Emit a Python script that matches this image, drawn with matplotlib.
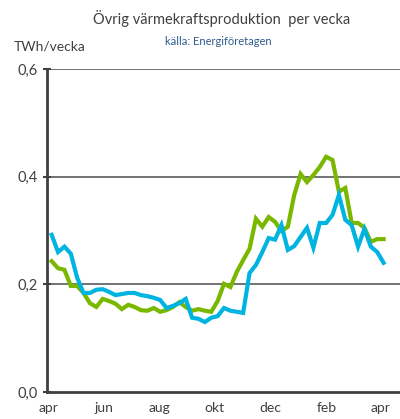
import numpy as np
import matplotlib.pyplot as plt

# weekly values, TWh/vecka
blue_vals = [0.292, 0.260, 0.270, 0.257, 0.212, 0.184, 0.184, 0.190, 0.191, 0.186,
             0.180, 0.182, 0.184, 0.184, 0.180, 0.178, 0.175, 0.171, 0.156, 0.160,
             0.165, 0.173, 0.138, 0.136, 0.130, 0.138, 0.141, 0.156, 0.151, 0.149,
             0.147, 0.221, 0.236, 0.260, 0.286, 0.283, 0.310, 0.264, 0.271, 0.288,
             0.305, 0.268, 0.314, 0.314, 0.329, 0.366, 0.320, 0.310, 0.270, 0.303,
             0.270, 0.260, 0.240]
green_vals = [0.243, 0.230, 0.227, 0.197, 0.197, 0.184, 0.165, 0.158, 0.173, 0.169,
              0.164, 0.154, 0.162, 0.158, 0.152, 0.151, 0.156, 0.149, 0.152, 0.158,
              0.167, 0.158, 0.151, 0.154, 0.151, 0.149, 0.169, 0.201, 0.195, 0.223,
              0.245, 0.266, 0.322, 0.307, 0.325, 0.316, 0.299, 0.307, 0.366, 0.405,
              0.390, 0.403, 0.418, 0.437, 0.431, 0.372, 0.379, 0.314, 0.314, 0.305,
              0.279, 0.284, 0.284]

month_labels = ['apr', 'jun', 'aug', 'okt', 'dec', 'feb', 'apr']
month_days = [0, 61, 122, 183, 244, 306, 365]   # days after 1 april
y_ticks = [0.0, 0.2, 0.4, 0.6]

plt.rcParams['font.family'] = ['Lato', 'DejaVu Sans']

# week positions as days after 1 april
days = 4 + 7 * np.arange(len(blue_vals))

fig = plt.figure(figsize=(4.0, 4.19), dpi=100)
ax = fig.add_axes([0.1175, 0.0644, 0.8825, 0.7709])

grid_col = '#5a5a5a'
for yt in y_ticks[1:]:
    ax.axhline(yt, color=grid_col, lw=1.2, zorder=1)

ax.plot(days, green_vals, color='#7ab800', lw=3.0, solid_joinstyle='miter', zorder=3)
ax.plot(days, blue_vals, color='#00b4e1', lw=3.0, solid_joinstyle='miter', zorder=4)

ax.set_xlim(-1.1, 386)
ax.set_ylim(0, 0.6)

for s in ['top', 'right']:
    ax.spines[s].set_visible(False)
ax.spines['left'].set_color('#404040')
ax.spines['left'].set_linewidth(2.0)
ax.spines['bottom'].set_color('#404040')
ax.spines['bottom'].set_linewidth(2.0)

ax.set_yticks(y_ticks)
ax.set_yticklabels([f'{v:.1f}'.replace('.', ',') for v in y_ticks],
                   fontsize=10.5, color='#404040')
ax.tick_params(axis='y', direction='inout', length=6, width=1.5, color='#404040', pad=4)

ax.set_xticks(month_days)
ax.set_xticklabels(month_labels, fontsize=10, color='#404040')
ax.tick_params(axis='x', length=0, pad=7)

fig.text(0.555, 0.957, 'Övrig värmekraftsproduktion  per vecka',
         ha='center', va='center', fontsize=10.5, color='#404040')
fig.text(0.545, 0.902, 'källa: Energiföretagen',
         ha='center', va='center', fontsize=8, color='#2e5a8c')
fig.text(0.035, 0.890, 'TWh/vecka', ha='left', va='center', fontsize=10, color='#404040')

fig.savefig('out.png', dpi=100)
